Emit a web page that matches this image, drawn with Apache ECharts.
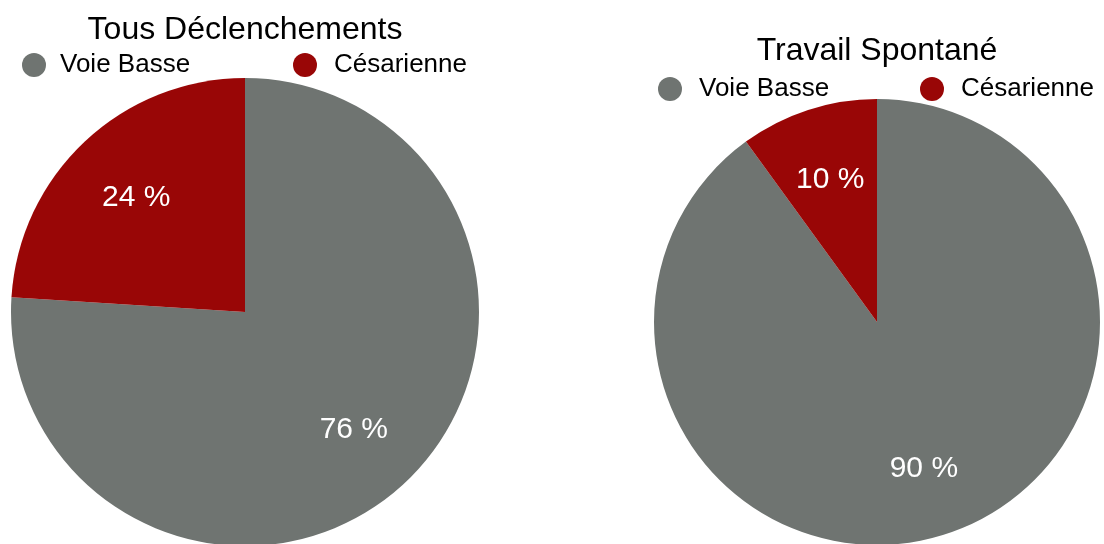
<!DOCTYPE html>
<html>
<head>
<meta charset="utf-8">
<script src="https://cdn.jsdelivr.net/npm/echarts@6/dist/echarts.min.js"></script>
<style>html,body{margin:0;padding:0;background:#fff}#c{width:1104px;height:544px}</style>
</head>
<body>
<div id="c"></div>
<script>
const categories = ['Voie Basse', 'Césarienne'];
const titles = ['Tous Déclenchements', 'Travail Spontané'];
const tousValues = [76, 24];
const spontaneValues = [90, 10];
const colors = ['#6f7471', '#990606'];

const FONT = '"Liberation Sans", "Helvetica Neue", Helvetica, Arial, sans-serif';
const pies = [
  { title: titles[0], values: tousValues, center: [245, 312], r: 234, titleTop: 14, legendTop: 52, legendLeft: [22, 293], textGap: [9, 12] },
  { title: titles[1], values: spontaneValues, center: [877, 322], r: 223, titleTop: 35, legendTop: 76, legendLeft: [658, 920], textGap: [12, 12] }
];

const mkData = vals => categories.map((n, i) => ({ name: n, value: vals[i], itemStyle: { color: colors[i] } }));

const series = [];
pies.forEach(p => {
  series.push({
    type: 'pie', center: p.center, radius: [0, p.r], startAngle: 90, clockwise: true,
    data: mkData(p.values), label: { show: false }, labelLine: { show: false },
    itemStyle: { borderWidth: 0 }, emphasis: { disabled: true }, silent: true
  });
});
pies.forEach(p => {
  series.push({
    type: 'pie', center: p.center, radius: [p.r / 3, p.r], startAngle: 90, clockwise: true,
    data: categories.map((n, i) => ({ name: n, value: p.values[i] })),
    itemStyle: { color: 'rgba(0,0,0,0)', borderWidth: 0 },
    label: { show: true, position: 'inside', formatter: '{c} %', color: '#fff', fontSize: 30, fontFamily: FONT, offset: [0, 2] },
    labelLine: { show: false }, emphasis: { disabled: true }, silent: true
  });
});

const legends = [];
pies.forEach(p => {
  categories.forEach((n, i) => {
    legends.push({
      data: [n], left: p.legendLeft[i], top: p.legendTop, padding: 0,
      icon: 'circle', itemWidth: 24, itemHeight: 24, selectedMode: false,
      textStyle: { fontSize: 26, color: '#000', fontFamily: FONT, padding: [0, 0, 0, p.textGap[i]] }
    });
  });
});

const chart = echarts.init(document.getElementById('c'), null, { renderer: 'canvas' });
chart.setOption({
  animation: false,
  backgroundColor: '#fff',
  title: pies.map(p => ({ text: p.title, left: p.center[0], top: p.titleTop, textAlign: 'center', padding: 0,
    textStyle: { fontSize: 32, fontWeight: 'normal', color: '#000', fontFamily: FONT } })),
  legend: legends,
  series: series
});
</script>
</body>
</html>
